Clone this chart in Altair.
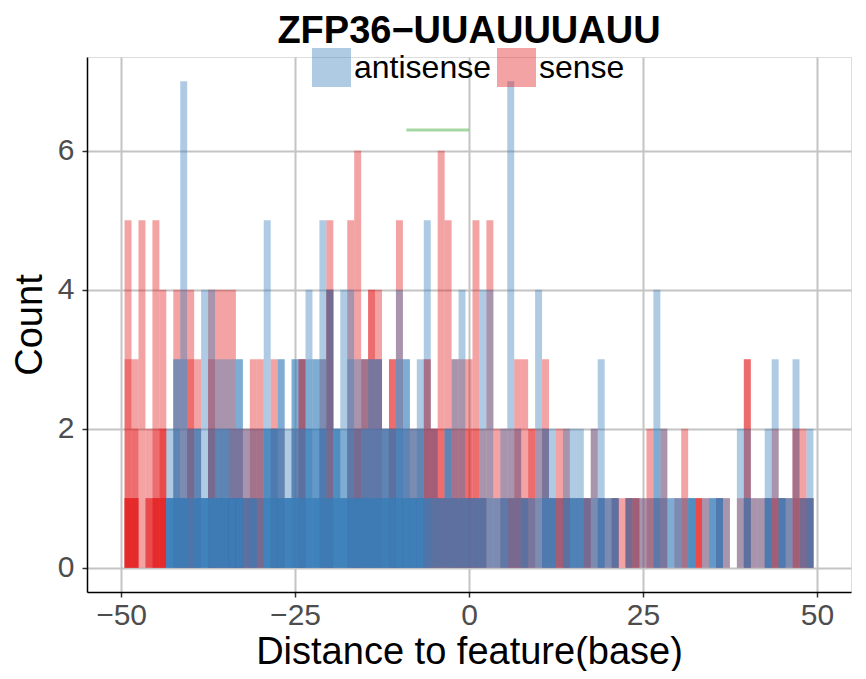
import altair as alt
import pandas as pd

# ---- data ----
positions = list(range(-49, 50))

# heights of the overlapping translucent bars at each position (sense strand)
sense_bars = [
    [5, 3, 1, 1, 1], [3, 2, 1, 1, 1], [5], [2, 1, 1], [5, 2, 1, 1, 1], [4, 2, 2, 1, 1],   # -49..-44
    [], [4, 1], [4, 1], [4, 3, 2], [3, 1], [], [4, 3, 2], [4, 1], [4, 1], [4, 2, 1],     # -43..-34
    [2, 2, 1], [2, 1, 1], [3, 2, 1], [3, 2, 1], [], [3, 2, 1], [2, 1], [], [2], [3, 3, 3],  # -33..-24
    [], [], [3, 2], [5, 4, 4], [], [], [5, 2], [6, 2, 2], [3, 3], [4, 4],               # -23..-14
    [4, 3], [2], [3, 3, 2], [5], [2], [2], [2], [3, 3, 2], [2, 2, 2], [6, 2, 1],        # -13..-4
    [5, 1, 1], [3, 2, 1], [3, 2, 1], [3, 2, 1], [5, 2, 1], [2, 1, 1], [5], [2], [2, 1], [2, 1, 1],  # -3..6
    [3, 2, 1], [3, 1, 1], [2, 2], [2], [3, 2], [1, 1], [2, 1, 1], [2, 1, 1], [1], [1],  # 7..16
    [1, 1, 1], [2], [1, 1], [1], [1, 1, 1], [1], [1, 1, 1], [1, 1, 1], [1], [2, 1],     # 17..26
    [1, 1], [2, 1], [], [1], [2, 1], [], [1, 1, 1], [1], [], [1, 1],                    # 27..36
    [1], [], [1], [3, 3, 1], [1], [1], [1, 1], [2, 1, 1], [1, 1], [1],                  # 37..46
    [2, 2, 1], [2, 1, 1], [1, 1, 1],                                                     # 47..49
]

# heights of the overlapping translucent bars at each position (antisense strand)
antisense_bars = [
    [], [], [], [], [], [],                                                              # -49..-44
    [2, 1, 1, 1, 1, 1], [3, 3, 2, 1, 1, 1], [7, 3, 1, 1, 1, 1], [2, 2, 1, 1],            # -43..-40
    [2, 2, 2, 1, 1, 1], [4, 1, 1, 1, 1, 1], [4, 2, 1, 1, 1, 1], [3, 2, 2, 1, 1, 1],      # -39..-36
    [3, 2, 2, 1, 1, 1], [3, 2, 1, 1, 1, 1], [3, 3, 1, 1, 1, 1], [2, 1, 1], [2, 1, 1, 1], # -35..-31
    [2, 1], [5, 2, 2, 2, 1, 1], [2, 2, 2, 2, 1, 1], [3, 3, 2, 1, 1, 1], [2, 1, 1, 1, 1, 1],  # -30..-26
    [3, 3, 2, 1, 1, 1], [3, 2, 2, 1, 1, 1], [4, 3, 2, 2, 1, 1], [3, 3, 2, 1, 1, 1],      # -25..-22
    [5, 3, 2, 2, 1, 1], [4, 4, 1, 1, 1, 1], [2, 2, 2, 2, 1, 1], [4, 2, 1, 1, 1, 1],      # -21..-18
    [4, 3, 2, 1, 1, 1], [3, 2, 1, 1, 1, 1], [3, 2, 2, 1, 1, 1], [3, 3, 2, 1, 1, 1],      # -17..-14
    [3, 3, 2, 1, 1, 1], [2, 2, 2, 1, 1, 1], [2, 2, 2, 1, 1, 1], [4, 3, 2, 2, 1, 1],      # -13..-10
    [3, 3, 2, 1, 1, 1], [2, 2, 1, 1, 1, 1], [3, 2, 2, 1, 1, 1], [5, 1, 1, 1], [2, 1, 1], # -9..-5
    [1, 1, 1], [2, 2, 2], [3, 1, 1], [4, 1, 1], [1, 1, 1], [1, 1, 1], [4, 1, 1], [4, 1], # -4..3
    [1, 1], [2, 1, 1], [7, 1], [2, 1], [1, 1, 1], [1, 1], [4, 1], [2, 2, 1, 1],          # 4..11
    [2, 1, 1, 1], [1], [2, 1, 1], [2, 1, 1, 1], [2, 1, 1, 1], [1, 1], [2, 1], [3, 1, 1, 1],  # 12..19
    [1, 1], [1, 1, 1], [], [1, 1], [1], [1], [1], [4, 2, 1], [2, 1], [1, 1],             # 20..29
    [1, 1], [1], [1, 1, 1, 1], [], [1], [1, 1, 1], [1, 1, 1, 1], [1], [], [2],           # 30..39
    [2, 1, 1], [1], [1], [2, 1, 1, 1], [3], [1, 1, 1, 1], [1, 1], [3], [1, 1], [2, 1, 1],  # 40..49
]

strands = ["antisense", "sense"]
strand_colors = ["#377EB8", "#E41A1C"]

motif_start = [-9]
motif_end = [0]
motif_level = [6.3]

x_ticks = [-50, -25, 0, 25, 50]
y_ticks = [0, 2, 4, 6]

title_text = ["ZFP36\u2212UUAUUUAUU"]

# ---- build table ----
rows = []
for strand, bars in (("sense", sense_bars), ("antisense", antisense_bars)):
    for pos, hs in zip(positions, bars):
        for k, h in enumerate(hs):
            rows.append({"pos": pos, "strand": strand, "count": h, "layer": k})
df = pd.DataFrame(rows)

FONT = "Liberation Sans"

xscale = alt.Scale(domain=[-54.9, 54.9], nice=False, zero=False)
yscale = alt.Scale(domain=[-0.35, 7.35], nice=False, zero=False)

xaxis = alt.Axis(values=x_ticks, title="Distance to feature(base)", grid=True,
                 gridColor="#C4C4C4", gridWidth=2, domainColor="black", domainWidth=1.5,
                 tickColor="#333333", tickSize=5, tickWidth=1.5,
                 labelFontSize=30, labelColor="#4D4D4D", labelFont=FONT, labelPadding=3,
                 titleFontSize=38, titleFont=FONT, titleColor="black",
                 titleFontWeight="normal", titlePadding=3)
yaxis = alt.Axis(values=y_ticks, title="Count", grid=True,
                 gridColor="#C4C4C4", gridWidth=2, domainColor="black", domainWidth=1.5,
                 tickColor="#333333", tickSize=5, tickWidth=1.5,
                 labelFontSize=30, labelColor="#4D4D4D", labelFont=FONT, labelPadding=8,
                 titleFontSize=38, titleFont=FONT, titleColor="black",
                 titleFontWeight="normal", titlePadding=8)

color = alt.Color("strand:N",
                  scale=alt.Scale(domain=strands, range=strand_colors),
                  legend=alt.Legend(orient="none", legendX=225, legendY=-9,
                                    direction="horizontal", title=None,
                                    symbolType="square", symbolSize=1521,
                                    symbolOpacity=0.4, symbolStrokeWidth=0,
                                    labelFontSize=32, labelFont=FONT, labelColor="black",
                                    labelOffset=3, columnPadding=6, padding=0))

base = alt.Chart(df).transform_calculate(
    x0="datum.pos - 0.5", x1="datum.pos + 0.5", zero="0"
)

def strand_layer(name):
    return base.transform_filter(alt.datum.strand == name).mark_bar(
        opacity=0.4, strokeWidth=0
    ).encode(
        x=alt.X("x0:Q", scale=xscale, axis=xaxis),
        x2="x1:Q",
        y=alt.Y("count:Q", scale=yscale, axis=yaxis),
        y2="zero:Q",
        color=color,
    )

motif = alt.Chart(pd.DataFrame({"start": motif_start, "end": motif_end, "lvl": motif_level})).mark_rule(
    color="#4DAF4A", opacity=0.5, strokeWidth=3
).encode(
    x=alt.X("start:Q", scale=xscale, axis=xaxis),
    x2="end:Q",
    y=alt.Y("lvl:Q", scale=yscale, axis=yaxis),
)

title = alt.Chart(pd.DataFrame({"t": title_text})).mark_text(
    font=FONT, fontSize=38, fontWeight="bold", color="black",
    align="center", baseline="alphabetic"
).encode(
    text="t:N", x=alt.value(382), y=alt.value(-14)
)

chart = alt.layer(strand_layer("sense"), strand_layer("antisense"), motif, title).properties(
    width=764, height=535,
    autosize=alt.AutoSizeParams(type="none"),
    padding={"left": 79, "top": 49, "right": 7, "bottom": 79},
).configure_view(stroke=None).configure(background="white")

chart.save("out.html", embed_options={"renderer": "svg", "actions": False})
